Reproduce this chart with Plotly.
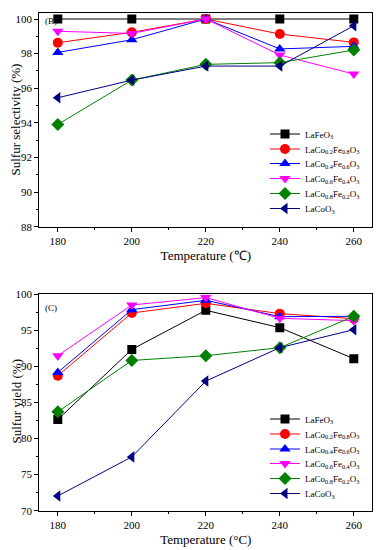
import plotly.graph_objects as go

temps = [180, 200, 220, 240, 260]
names = ["LaFeO<sub>3</sub>", "LaCo<sub>0.2</sub>Fe<sub>0.8</sub>O<sub>3</sub>",
         "LaCo<sub>0.4</sub>Fe<sub>0.6</sub>O<sub>3</sub>", "LaCo<sub>0.6</sub>Fe<sub>0.4</sub>O<sub>3</sub>",
         "LaCo<sub>0.8</sub>Fe<sub>0.2</sub>O<sub>3</sub>", "LaCoO<sub>3</sub>"]

sel_LaFeO3 = [100, 100, 100, 100, 100]
sel_Co02 = [98.63, 99.23, 100, 99.13, 98.65]
sel_Co04 = [98.07, 98.8, 100, 98.27, 98.42]
sel_Co06 = [99.29, 99.17, 100, 97.92, 96.82]
sel_Co08 = [93.91, 96.47, 97.38, 97.48, 98.21]
sel_LaCoO3 = [95.45, 96.47, 97.28, 97.28, 99.61]

yld_LaFeO3 = [82.64, 92.36, 97.78, 95.38, 91.07]
yld_Co02 = [88.71, 97.41, 98.75, 97.32, 96.62]
yld_Co04 = [89.17, 97.87, 99.17, 96.9, 96.95]
yld_Co06 = [91.49, 98.52, 99.54, 96.67, 96.35]
yld_Co08 = [83.71, 90.83, 91.49, 92.6, 96.94]
yld_LaCoO3 = [72.04, 77.46, 87.97, 92.6, 95.1]

colors = ["#000000", "#ff0000", "#0000ff", "#ff00ff", "#008000", "#000080"]
symbols = ["square", "circle", "triangle-up", "triangle-down", "diamond", "triangle-left"]
sizes = [9, 10, 10, 10, 10, 10]

sel = [sel_LaFeO3, sel_Co02, sel_Co04, sel_Co06, sel_Co08, sel_LaCoO3]
yld = [yld_LaFeO3, yld_Co02, yld_Co04, yld_Co06, yld_Co08, yld_LaCoO3]

OFF = 8  # default page body margin
W, H = 381 - OFF, 550 - OFF


def fx(p):
    return (p - OFF) / W


def fy(p):
    return 1 - (p - OFF) / H


FONT = "Liberation Serif"
top_rows = [134, 149, 163.5, 178.5, 193.5, 208.5]
bot_rows = [419, 434, 449, 463.5, 478.5, 493.5]
LEG_X = 265

fig = go.Figure()
legends = {}
for i in range(6):
    ln = f"legend{i + 2}"
    fig.add_trace(go.Scatter(x=temps, y=sel[i], name=names[i], mode="lines+markers",
                             line=dict(color=colors[i], width=1),
                             marker=dict(symbol=symbols[i], size=sizes[i], color=colors[i]),
                             xaxis="x", yaxis="y", legend=ln, showlegend=True))
    legends[ln] = dict(x=fx(LEG_X), y=fy(top_rows[i]), xanchor="left", yanchor="middle",
                       font=dict(family=FONT, size=9), bgcolor="rgba(0,0,0,0)", itemwidth=30)
for i in range(6):
    ln = f"legend{i + 8}"
    fig.add_trace(go.Scatter(x=temps, y=yld[i], name=names[i], mode="lines+markers",
                             line=dict(color=colors[i], width=1),
                             marker=dict(symbol=symbols[i], size=sizes[i], color=colors[i]),
                             xaxis="x2", yaxis="y2", legend=ln, showlegend=True))
    legends[ln] = dict(x=fx(LEG_X), y=fy(bot_rows[i]), xanchor="left", yanchor="middle",
                       font=dict(family=FONT, size=9), bgcolor="rgba(0,0,0,0)", itemwidth=30)

axcommon = dict(showline=True, linecolor="black", linewidth=1.2, mirror=True, ticks="outside",
                ticklen=4, tickcolor="black", showgrid=False, zeroline=False, automargin=False,
                tickfont=dict(family=FONT, size=11, color="black"))
xd = [fx(39.3), fx(372.3)]
fig.update_layout(
    width=W, height=H, margin=dict(l=0, r=0, t=0, b=0),
    paper_bgcolor="white", plot_bgcolor="white",
    font=dict(family=FONT, color="black"), showlegend=True,
    xaxis=dict(domain=xd, range=[175, 265], dtick=20, tick0=180, anchor="y",
               minor=dict(dtick=10, ticks="outside", ticklen=2, tickcolor="black"),
               title=dict(text="Temperature (℃)", font=dict(family=FONT, size=13), standoff=4), **axcommon),
    yaxis=dict(domain=[fy(226.7), fy(13.3)], range=[88, 100.33], dtick=2, anchor="x",
               minor=dict(dtick=1, ticks="outside", ticklen=2, tickcolor="black"), **axcommon),
    xaxis2=dict(domain=xd, range=[175, 265], dtick=20, tick0=180, anchor="y2",
                minor=dict(dtick=10, ticks="outside", ticklen=2, tickcolor="black"),
                title=dict(text="Temperature (°C)", font=dict(family=FONT, size=13), standoff=4), **axcommon),
    yaxis2=dict(domain=[fy(510.7), fy(294.3)], range=[70, 100], dtick=5, anchor="x2",
                minor=dict(dtick=2.5, ticks="outside", ticklen=2, tickcolor="black"), **axcommon),
    annotations=[
        dict(text="(B)", x=0.01, y=0.995, xref="x domain", yref="y domain", showarrow=False,
             xanchor="left", yanchor="top", font=dict(family=FONT, size=9)),
        dict(text="(C)", x=0.01, y=0.97, xref="x2 domain", yref="y2 domain", showarrow=False,
             xanchor="left", yanchor="top", font=dict(family=FONT, size=9)),
        dict(text="Sulfur selectivity (%)", x=fx(15.5), y=fy(120), xref="paper", yref="paper",
             showarrow=False, textangle=-90, xanchor="center", yanchor="middle",
             font=dict(family=FONT, size=13)),
        dict(text="Sulfur yield (%)", x=fx(15.5), y=fy(402), xref="paper", yref="paper",
             showarrow=False, textangle=-90, xanchor="center", yanchor="middle",
             font=dict(family=FONT, size=13)),
    ],
    **legends,
)
fig.write_html("out.html")
